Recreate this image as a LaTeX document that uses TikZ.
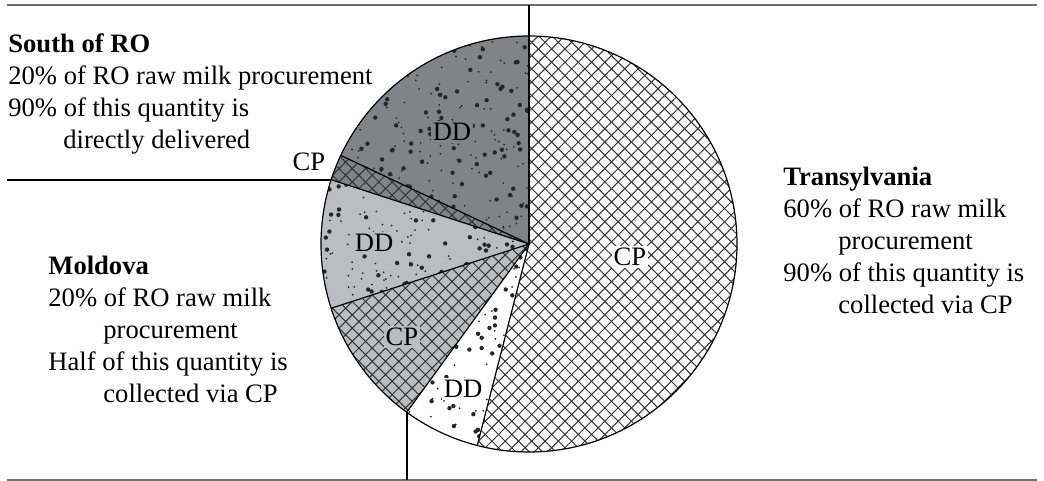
\documentclass[tikz,border=0pt]{standalone}
\usepackage{fontspec}
\setmainfont{Liberation Serif}
\usetikzlibrary{patterns.meta}

\definecolor{darkslice}{HTML}{828387}
\definecolor{lightslice}{HTML}{BCBDC1}
\definecolor{rulegray}{HTML}{6E6E6E}

\newcommand{\indentgap}{\hspace*{27.5pt}}
% random dots inside one slice: start angle, end angle, number of dots
\newcommand{\sprinkle}[3]{%
  \begin{scope}
    \clip (c) -- ++(#1:208) arc[start angle=#1,end angle=#2,radius=208] -- cycle;
    \foreach \k in {1,...,#3}{
      \pgfmathsetmacro{\rr}{208*sqrt(rnd)}
      \pgfmathsetmacro{\aa}{#1+(#2-#1)*rnd}
      \pgfmathsetmacro{\ds}{rnd<0.4 ? 2.2 : 1.0}
      \fill[black!85] (c) ++(\aa:\rr) circle (\ds);
    }
  \end{scope}}

\tikzset{
  hatch/.style={
    postaction={pattern={Lines[angle=45,distance=4.7pt,line width=0.5pt]},pattern color=black!80},
    postaction={pattern={Lines[angle=-45,distance=4.7pt,line width=0.5pt]},pattern color=black!80}},
  tag/.style={inner sep=1pt},
  region/.style={anchor=north west,inner sep=0pt,align=left},
  rule/.style={rulegray,line width=1pt}
}

\begin{document}
\begin{tikzpicture}[x=0.5pt,y=0.5pt,every node/.style={font=\fontsize{13.3}{16}\selectfont}]
    \useasboundingbox (0,0) rectangle (1044,481);
    \pgfmathsetseed{11}
    \coordinate (c) at (529,237);

    % Transylvania: CP 54%, DD 6%
    \path[fill=white,hatch] (c) -- ++(90:208) arc[start angle=90,end angle=-104.4,radius=208] -- cycle;
    \path[fill=white] (c) -- ++(-104.4:208) arc[start angle=-104.4,end angle=-126,radius=208] -- cycle;
    \sprinkle{-104.4}{-126}{60}

    % Moldova: CP 10%, DD 10%
    \path[fill=lightslice,hatch] (c) -- ++(-126:208) arc[start angle=-126,end angle=-162,radius=208] -- cycle;
    \path[fill=lightslice] (c) -- ++(-162:208) arc[start angle=-162,end angle=-198,radius=208] -- cycle;
    \sprinkle{-162}{-198}{100}

    % South of RO: CP 2%, DD 18%
    \path[fill=darkslice,hatch] (c) -- ++(-198:208) arc[start angle=-198,end angle=-205.2,radius=208] -- cycle;
    \path[fill=darkslice] (c) -- ++(-205.2:208) arc[start angle=-205.2,end angle=-270,radius=208] -- cycle;
    \sprinkle{-205.2}{-270}{180}

    % outline
    \draw[line width=0.6pt] (c) circle (208);
    \foreach \a in {90,-104.4,-126,-162,-198,-205.2}
        \draw[line width=0.6pt] (c) -- ++(\a:208);

    % slice labels
    \node[tag,fill=white] (tcp) at (630,224) {CP};
    \node[tag,fill=white] (tdd) at (463,92) {DD};
    \node[tag,fill=lightslice] (mcp) at (402,144) {CP};
    \node[tag,fill=lightslice] (mdd) at (374,238) {DD};
    \node[tag,fill=darkslice] (sdd) at (452,349) {DD};
    \node[tag] (scp) at (309,319) {CP};

    % region texts
    \node[region] (south) at (8,451.4) {\textbf{South of RO}\strut\\
        20\% of RO raw milk procurement\\
        90\% of this quantity is\\
        \indentgap directly delivered};
    \node[region] (moldova) at (48,229.4) {\textbf{Moldova}\strut\\
        20\% of RO raw milk\\
        \indentgap procurement\\
        Half of this quantity is\\
        \indentgap collected via CP};
    \node[region] (transylvania) at (783,318.4) {\textbf{Transylvania}\strut\\
        60\% of RO raw milk\\
        \indentgap procurement\\
        90\% of this quantity is\\
        \indentgap collected via CP};

    % rules
    \path (c) ++(90:208) coordinate (ptop);
    \path (c) ++(162:208) coordinate (pleft);
    \path (c) ++(-126:208) coordinate (pbottom);
    \draw[rule] (7,476) -- (1037,476);
    \draw[rule] (7,1) -- (1037,1);
    \draw[line width=0.8pt] (ptop) -- (ptop |- 0,476);
    \draw[line width=0.8pt] (pleft) -- (7,0 |- pleft);
    \draw[line width=0.8pt] (pbottom) -- (pbottom |- 0,1);
\end{tikzpicture}
\end{document}
